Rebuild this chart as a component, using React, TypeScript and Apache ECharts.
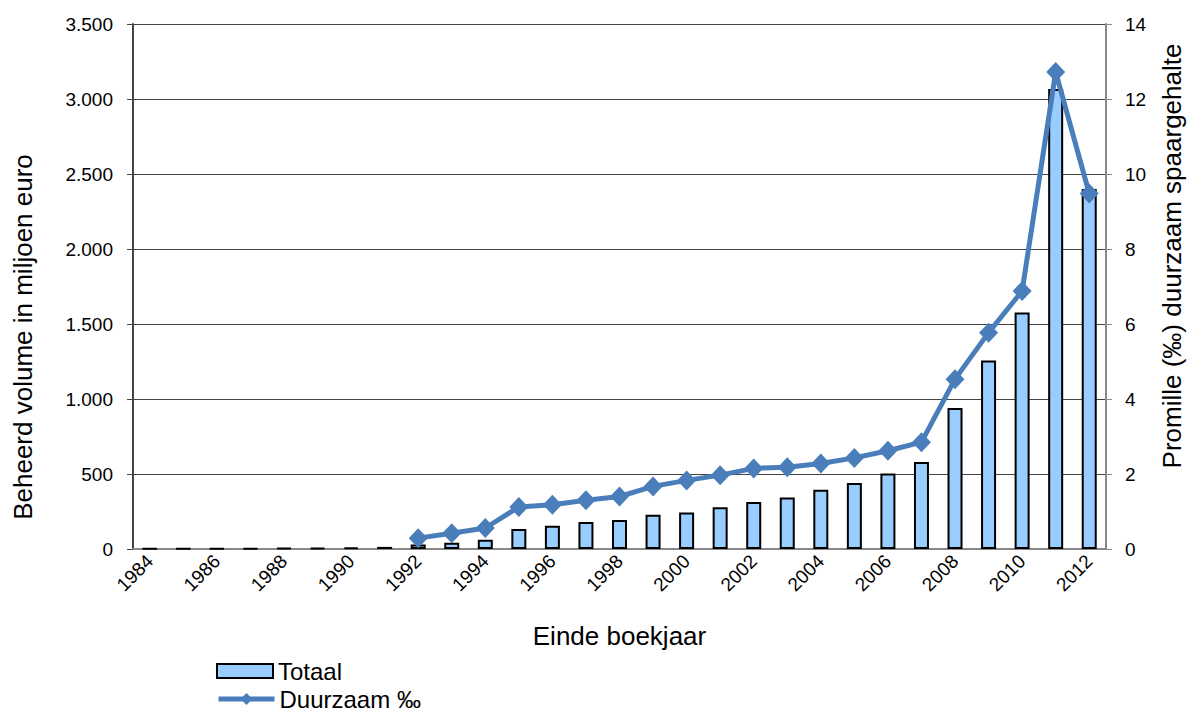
import React, { useEffect, useRef } from "react";
import * as echarts from "echarts";

const years = ["1984","1985","1986","1987","1988","1989","1990","1991","1992","1993","1994","1995","1996","1997","1998","1999","2000","2001","2002","2003","2004","2005","2006","2007","2008","2009","2010","2011","2012"];
const totaal = [2, 3, 4, 5, 6, 8, 10, 14, 30, 42, 62, 133, 155, 180, 193, 229, 244, 278, 313, 344, 395, 440, 504, 580, 940, 1257, 1577, 3067, 2400];
const duurzaam = [null, null, null, null, null, null, null, null, 0.29, 0.42, 0.56, 1.12, 1.18, 1.3, 1.4, 1.67, 1.83, 1.97, 2.15, 2.18, 2.28, 2.43, 2.62, 2.85, 4.53, 5.77, 6.88, 12.72, 9.48];
const leftTicks = { min: 0, max: 3500, interval: 500 };
const rightTicks = { min: 0, max: 14, interval: 2 };

const FONT = "Liberation Sans, Arial, sans-serif";
const W = 1190;
const H = 713;
const BLUE = "#4A7EBB";

export default function App() {
  const ref = useRef<HTMLDivElement>(null);
  useEffect(() => {
    document.body.style.margin = "0";
    document.body.style.overflow = "hidden";
    const chart = echarts.init(ref.current!, null, { renderer: "svg", width: W, height: H });
    chart.setOption({
      animation: false,
      textStyle: { fontFamily: FONT },
      grid: { left: 133, right: 84, top: 24, bottom: 164, containLabel: false },
      legend: [
        {
          left: 216,
          top: 659,
          padding: 0,
          itemWidth: 56,
          itemHeight: 14,
          textStyle: { fontFamily: FONT, fontSize: 24, color: "#000" },
          data: [{ name: "Totaal", icon: "rect" }],
        },
        {
          left: 216,
          top: 687,
          padding: 0,
          itemWidth: 56,
          itemHeight: 15,
          lineStyle: { width: 5, color: BLUE },
          itemStyle: { color: BLUE },
          textStyle: { fontFamily: FONT, fontSize: 24, color: "#000" },
          data: [{ name: "Duurzaam ‰" }],
        },
      ],
      graphic: [
        {
          type: "text",
          x: 23,
          y: 337,
          rotation: Math.PI / 2,
          style: {
            text: "Beheerd volume in miljoen euro",
            font: "26px " + FONT,
            fill: "#000",
            textAlign: "center",
            textVerticalAlign: "middle",
          },
        },
        {
          type: "text",
          x: 1172,
          y: 256,
          rotation: Math.PI / 2,
          style: {
            text: "Promille (‰) duurzaam spaargehalte",
            font: "26px " + FONT,
            fill: "#000",
            textAlign: "center",
            textVerticalAlign: "middle",
          },
        },
      ],
      xAxis: {
        type: "category",
        data: years,
        name: "Einde boekjaar",
        nameLocation: "middle",
        nameGap: 74,
        nameTextStyle: { fontFamily: FONT, fontSize: 26, color: "#000" },
        axisLine: { lineStyle: { color: "#888", width: 2 } },
        axisTick: { show: false },
        axisLabel: { interval: 1, rotate: 45, fontSize: 19, color: "#000", fontFamily: FONT, margin: 9 },
      },
      yAxis: [
        {
          type: "value",
          ...leftTicks,
          axisLine: { show: true, lineStyle: { color: "#444", width: 2 } },
          axisTick: { show: true, length: 6, lineStyle: { color: "#444" } },
          axisLabel: {
            fontSize: 19, color: "#000", fontFamily: FONT, margin: 20,
            formatter: (v: number) => v.toLocaleString("de-DE"),
          },
          splitLine: { show: true, lineStyle: { color: "#444", width: 1 } },
        },
        {
          type: "value",
          ...rightTicks,
          axisLine: { show: true, lineStyle: { color: "#888", width: 2 } },
          axisTick: { show: true, length: 6, lineStyle: { color: "#888" } },
          axisLabel: { fontSize: 19, color: "#000", fontFamily: FONT, margin: 19 },
          splitLine: { show: false },
        },
      ],
      series: [
        {
          name: "Totaal",
          type: "bar",
          data: totaal,
          barWidth: 15,
          itemStyle: { color: "#99CCFF", borderColor: "#000", borderWidth: 2 },
        },
        {
          name: "Duurzaam ‰",
          type: "line",
          yAxisIndex: 1,
          data: duurzaam,
          symbol: "diamond",
          symbolSize: [19, 20],
          connectNulls: false,
          lineStyle: { color: BLUE, width: 5 },
          itemStyle: { color: BLUE },
        },
      ],
    });
    return () => chart.dispose();
  }, []);
  return <div ref={ref} style={{ width: W, height: H, position: "absolute", left: 0, top: 0 }} />;
}
